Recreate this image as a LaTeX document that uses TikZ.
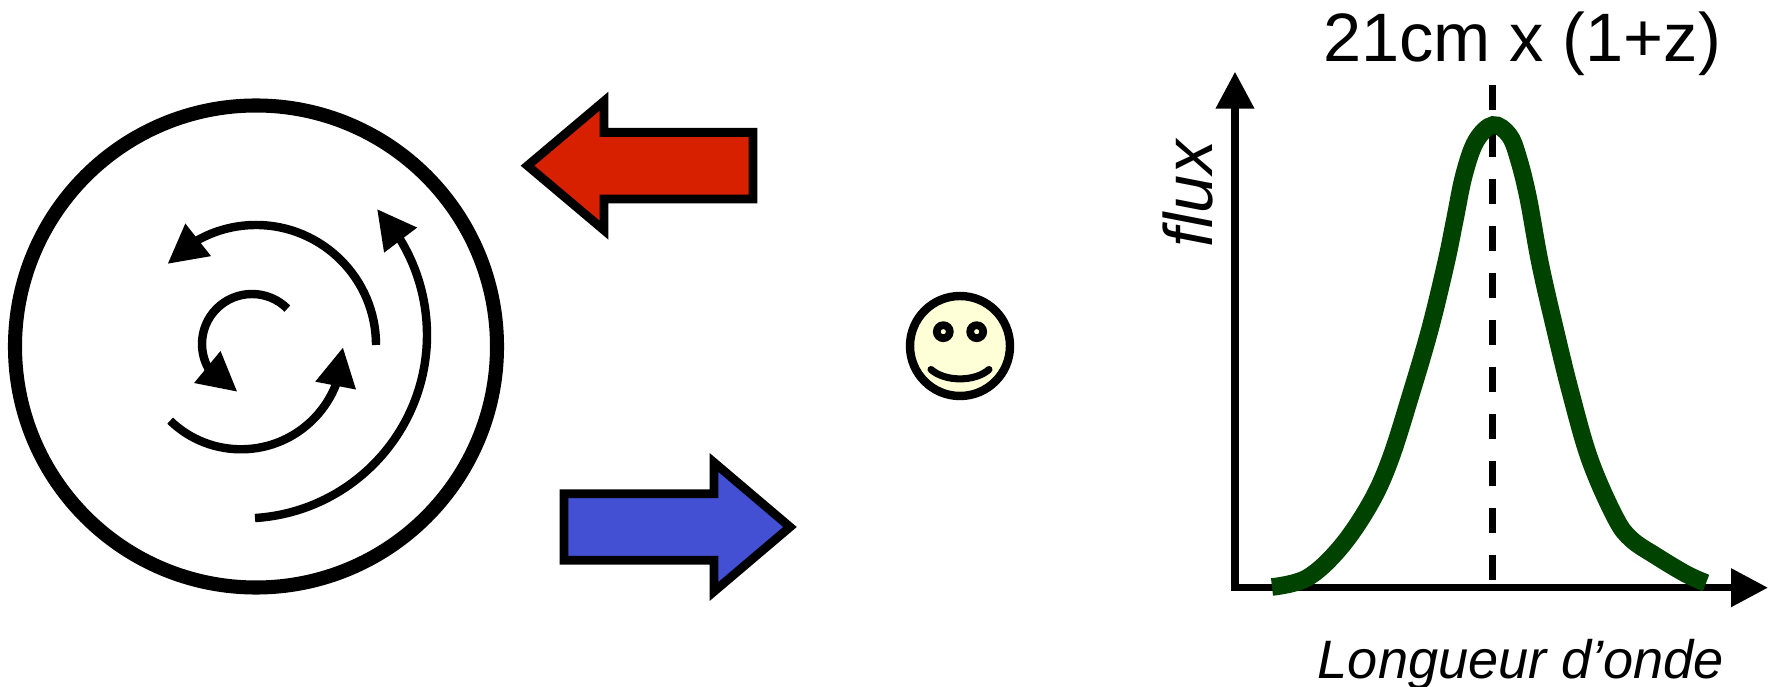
\documentclass[tikz,border=0pt]{standalone}
\usepackage{fontspec}
\setmainfont{Liberation Sans}
\usetikzlibrary{arrows.meta,bending}
\definecolor{redarrow}{RGB}{214,32,0}
\definecolor{bluearrow}{RGB}{67,80,212}
\definecolor{smileyface}{RGB}{255,255,215}
\definecolor{linegreen}{RGB}{0,66,0}
\tikzstyle{disk} = [draw, line width=4pt]
\tikzstyle{spin} = [draw, line width=2.4pt, -{Triangle[length=0.39cm,width=0.39cm]}]
\tikzstyle{bigarrow} = [draw, line width=2.5pt, line join=miter]
\tikzstyle{axes} = [draw, line width=2.1pt, {Triangle[length=0.37cm,width=0.37cm]}-{Triangle[length=0.37cm,width=0.37cm]}]
\tikzstyle{profile} = [draw=linegreen, line width=5pt]

\begin{document}
\begin{tikzpicture}
	\useasboundingbox (0,0) rectangle (17.72,6.87);

	% rotating disk seen face on
	\draw [disk] (2.56,3.405) circle (2.41);
	\draw [spin] ([shift={(2.52,3.43)}]45:0.5) arc[start angle=45, end angle=253, radius=0.5];
	\draw [spin] ([shift={(2.56,3.42)}]0:1.2) arc[start angle=0, end angle=137.5, radius=1.2];
	\draw [spin] ([shift={(2.41,3.397)}]226:1.02) arc[start angle=226, end angle=360, radius=1.02];
	\draw [spin] ([shift={(2.435,3.521)}]273.6:1.835) arc[start angle=273.6, end angle=403.3, radius=1.835];

	% approaching and receding sides
	\draw [bigarrow, fill=redarrow] (5.275,5.213) -- (6.04,5.858) -- (6.04,5.546) -- (7.53,5.546)
		-- (7.53,4.880) -- (6.04,4.880) -- (6.04,4.568) -- cycle;
	\draw [bigarrow, fill=bluearrow] (7.90,1.60) -- (7.14,2.245) -- (7.14,1.933) -- (5.64,1.933)
		-- (5.64,1.267) -- (7.14,1.267) -- (7.14,0.955) -- cycle;

	% observer
	\node [circle, draw, fill=smileyface, line width=2.4pt, minimum size=1cm, inner sep=0pt] (observer) at (9.60,3.41) {};
	\draw [line width=2.2pt] (9.433,3.553) circle (0.065);
	\draw [line width=2.2pt] (9.767,3.553) circle (0.065);
	\draw [line width=2pt, line cap=round] (9.31,3.175) .. controls (9.45,3.05) and (9.75,3.05) .. (9.89,3.175);

	% spectrum
	\coordinate (origin) at (12.35,0.993);
	\coordinate (ytip) at (12.35,6.153);
	\coordinate (xtip) at (17.68,0.993);
	\draw [axes] (ytip) -- (origin) -- (xtip);
	\draw [line width=2pt, dash pattern=on 0.25cm off 0.22cm] (14.923,6.02) -- (14.923,0.993);
	\draw [profile] plot[smooth, tension=0.6] coordinates {(12.72,1.00) (13.07,1.09) (13.40,1.39) (13.70,1.83)
		(13.90,2.27) (14.11,2.93) (14.30,3.58) (14.46,4.24) (14.55,4.68) (14.64,5.12) (14.76,5.46)
		(14.93,5.62) (15.09,5.52) (15.18,5.30) (15.28,4.90) (15.40,4.24) (15.55,3.58)
		(15.71,2.93) (15.90,2.27) (16.15,1.70) (16.31,1.48) (16.56,1.31) (16.86,1.13) (17.06,1.04)};

	\node [anchor=base, font=\fontsize{19.5}{22}\selectfont] (peak) at (15.22,6.257) {21cm x (1+z)};
	\node [anchor=base, rotate=90, font=\fontsize{19.5}{22}\selectfont\itshape] (flux) at (12.12,4.93) {flux};
	\node [anchor=base, font=\fontsize{15.4}{18}\selectfont\itshape] (wavelength) at (15.21,0.08) {Longueur d’onde};
\end{tikzpicture}
\end{document}
